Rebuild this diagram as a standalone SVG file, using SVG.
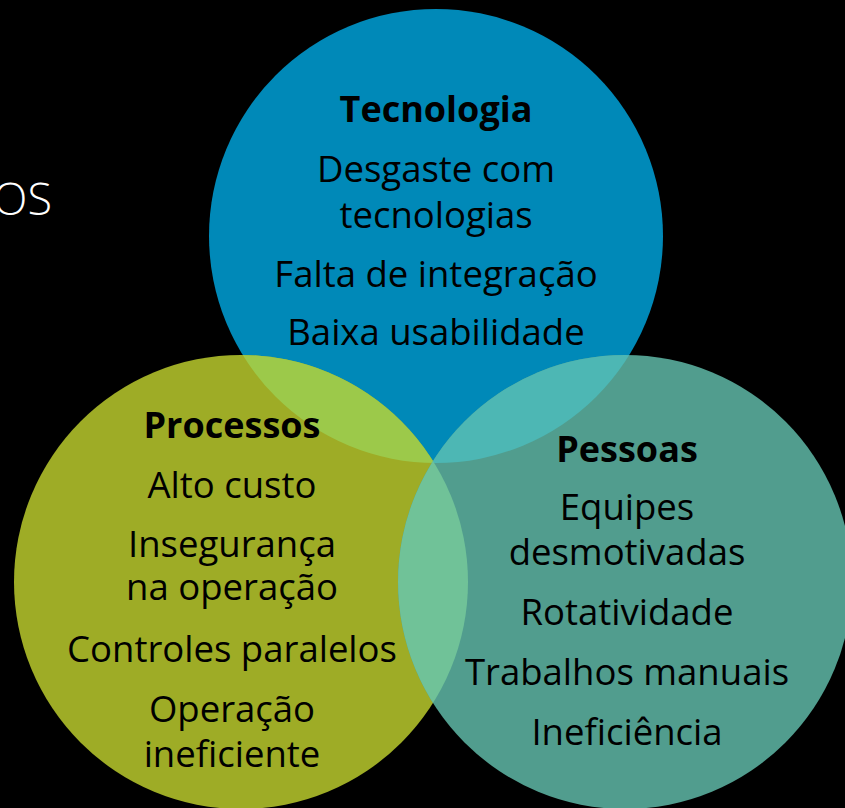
<svg xmlns="http://www.w3.org/2000/svg" width="845" height="808" viewBox="0 0 845 808">
<style>
  .t{font-family:"Open Sans","Liberation Sans",sans-serif;font-size:36.5px;fill:#000;text-anchor:middle}
  .b{font-weight:bold;font-size:36px}
</style>
<defs>
  <clipPath id="cTec"><circle cx="436" cy="236" r="227"/></clipPath>
  <clipPath id="cPro"><circle cx="241" cy="582" r="227"/></clipPath>
  <clipPath id="cPes"><circle cx="625" cy="582" r="227"/></clipPath>
</defs>
<rect x="0" y="0" width="845" height="808" fill="#000"/>
<text x="52" y="215" font-family="'Open Sans','Liberation Sans',sans-serif" font-weight="300" font-size="45" fill="#fff" text-anchor="end">OS</text>
<g id="tecnologia">
  <circle cx="436" cy="236" r="227" fill="#0089B8"/>
</g>
<g id="processos">
  <circle cx="241" cy="582" r="227" fill="#9EAC26"/>
</g>
<g id="pessoas">
  <circle cx="625" cy="582" r="227" fill="#519D8E"/>
</g>
<g id="overlaps">
  <g clip-path="url(#cTec)"><circle cx="241" cy="582" r="227" fill="#9CC94A"/></g>
  <g clip-path="url(#cTec)"><circle cx="625" cy="582" r="227" fill="#4DB7B4"/></g>
  <g clip-path="url(#cPro)"><circle cx="625" cy="582" r="227" fill="#70C298"/></g>
</g>
<g id="tecnologia-text">
  <text class="t b" x="436" y="122">Tecnologia</text>
  <text class="t" x="436" y="182">Desgaste com</text>
  <text class="t" x="436" y="228">tecnologias</text>
  <text class="t" x="436" y="287">Falta de integração</text>
  <text class="t" x="436" y="345">Baixa usabilidade</text>
</g>
<g id="processos-text">
  <text class="t b" x="232" y="438">Processos</text>
  <text class="t" x="232" y="498">Alto custo</text>
  <text class="t" x="232" y="557">Insegurança</text>
  <text class="t" x="232" y="600">na operação</text>
  <text class="t" x="232" y="662">Controles paralelos</text>
  <text class="t" x="232" y="722">Operação</text>
  <text class="t" x="232" y="767">ineficiente</text>
</g>
<g id="pessoas-text">
  <text class="t b" x="627" y="462">Pessoas</text>
  <text class="t" x="627" y="520">Equipes</text>
  <text class="t" x="627" y="565">desmotivadas</text>
  <text class="t" x="627" y="625">Rotatividade</text>
  <text class="t" x="627" y="685">Trabalhos manuais</text>
  <text class="t" x="627" y="745">Ineficiência</text>
</g>
</svg>
